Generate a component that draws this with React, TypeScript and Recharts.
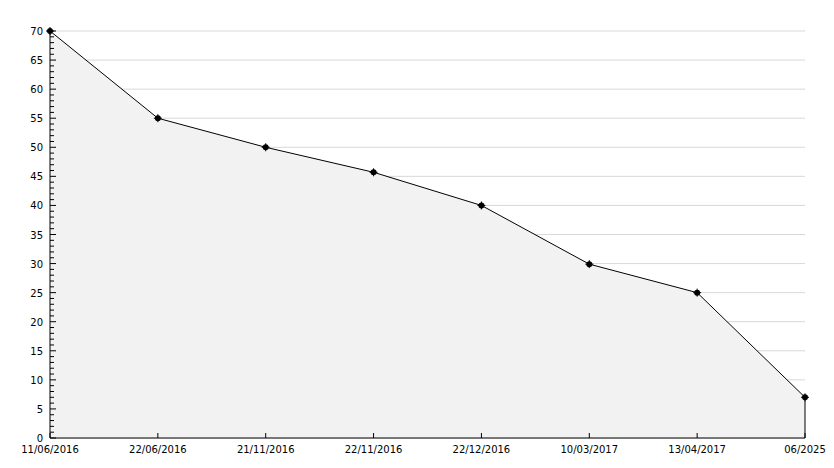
import React from 'react';
import { AreaChart, Area, XAxis, YAxis, CartesianGrid, ReferenceLine } from 'recharts';

// dates along the bottom axis
const dates = [
  '11/06/2016',
  '22/06/2016',
  '21/11/2016',
  '22/11/2016',
  '22/12/2016',
  '10/03/2017',
  '13/04/2017',
  '06/2025',
];

// values
const values = [70, 55, 50, 45.7, 40, 29.9, 25, 7];

// y ticks: labelled every 5, small marks every 1
const majorTicks = [0, 5, 10, 15, 20, 25, 30, 35, 40, 45, 50, 55, 60, 65, 70];
const minorTicks = Array.from({ length: 71 }, (_, i) => i);

const data = dates.map((date, i) => ({ date, value: values[i] }));
const last = data[data.length - 1];

const FONT = '"DejaVu Sans", sans-serif';

const YTick = (props: any) => {
  const { x, y, payload } = props;
  const major = payload.value % 5 === 0;
  return (
    <g>
      <line x1={x} y1={y} x2={x + (major ? 6 : 4)} y2={y} stroke="#000" strokeWidth={1} />
      {major && (
        <text x={x - 7} y={y} dy={4} textAnchor="end" fontSize={10} fontFamily={FONT} fill="#000">
          {payload.value}
        </text>
      )}
    </g>
  );
};

const XTick = (props: any) => {
  const { x, y, payload } = props;
  return (
    <g>
      <line x1={x} y1={y} x2={x} y2={y - 5} stroke="#000" strokeWidth={1} />
      <text x={x} y={y} dy={15} textAnchor="middle" fontSize={10} fontFamily={FONT} fill="#000">
        {payload.value}
      </text>
    </g>
  );
};

// small star-ish marker
const Dot = (props: any) => {
  const { cx, cy } = props;
  if (cx == null || cy == null) return null;
  return (
    <g>
      <circle cx={cx} cy={cy} r={3} fill="#000" />
      <path d={`M${cx - 4},${cy}H${cx + 4}M${cx},${cy - 4}V${cy + 4}`} stroke="#000" strokeWidth={1} />
    </g>
  );
};

const App = () => {
  return (
    <div style={{ position: 'absolute', left: 0, top: 0, background: '#fff' }}>
      <AreaChart
        width={834}
        height={468}
        data={data}
        margin={{ top: 31, right: 29, bottom: 0, left: 0 }}
      >
        <CartesianGrid
          vertical={false}
          horizontalValues={majorTicks}
          stroke="#d9d9d9"
          strokeWidth={1}
        />
        <XAxis
          dataKey="date"
          height={30}
          tickLine={false}
          tickSize={0}
          tickMargin={0}
          axisLine={{ stroke: '#000', strokeWidth: 1 }}
          tick={<XTick />}
          interval={0}
        />
        <YAxis
          width={50}
          domain={[0, 70]}
          ticks={minorTicks}
          interval={0}
          tickLine={false}
          tickSize={0}
          tickMargin={0}
          axisLine={{ stroke: '#000', strokeWidth: 1 }}
          tick={<YTick />}
        />
        <Area
          type="linear"
          dataKey="value"
          stroke="#000"
          strokeWidth={1}
          fill="#f2f2f2"
          fillOpacity={1}
          dot={<Dot />}
          activeDot={false}
          isAnimationActive={false}
        />
        <ReferenceLine
          segment={[{ x: last.date, y: 0 }, { x: last.date, y: last.value }]}
          stroke="#000"
          strokeWidth={1}
        />
      </AreaChart>
    </div>
  );
};

export default App;
